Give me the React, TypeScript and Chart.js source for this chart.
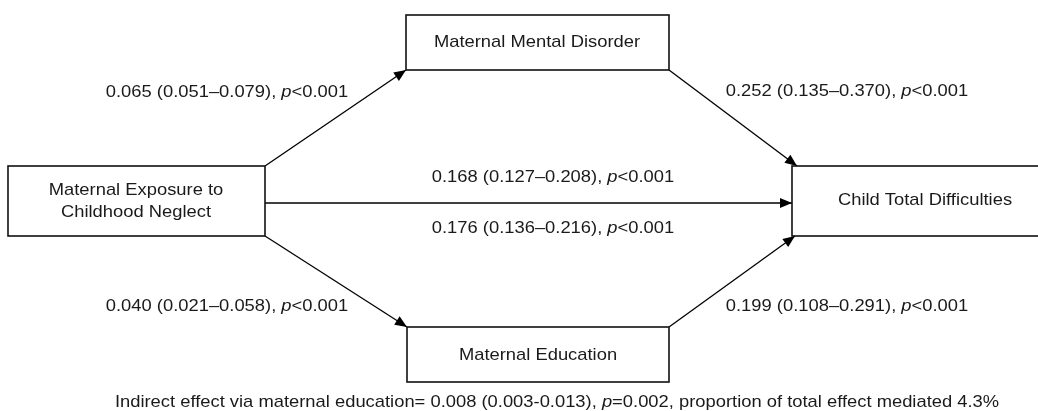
import React, { useEffect, useRef } from "react";
import { Chart, registerables } from "chart.js";

Chart.register(...registerables);

// ---- Data ----
const nodeLabels: string[][] = [
  ["Maternal Exposure to", "Childhood Neglect"],
  ["Maternal Mental Disorder"],
  ["Maternal Education"],
  ["Child Total Difficulties"],
];
const pathNames = [
  "Neglect → Mental Disorder",
  "Mental Disorder → Difficulties",
  "Total effect",
  "Direct effect",
  "Neglect → Education",
  "Education → Difficulties",
];
const estimates = [0.065, 0.252, 0.168, 0.176, 0.04, 0.199];
const ciLower = [0.051, 0.135, 0.127, 0.136, 0.021, 0.108];
const ciUpper = [0.079, 0.37, 0.208, 0.216, 0.058, 0.291];
const pValues = ["<0.001", "<0.001", "<0.001", "<0.001", "<0.001", "<0.001"];
const indirectEstimate = 0.008;
const indirectLower = 0.003;
const indirectUpper = 0.013;
const indirectP = "=0.002";
const proportionMediated = 4.3;

// ---- Layout (diagram coordinates) ----
const boxes = [
  { x0: 8, y0: 166, x1: 265, y1: 236 },
  { x0: 406, y0: 15, x1: 669, y1: 70 },
  { x0: 407, y0: 327, x1: 669, y1: 382 },
  { x0: 792, y0: 166, x1: 1058, y1: 236 },
];
const nodeLabelPos = [
  { x: 136, y: 201 },
  { x: 537, y: 42 },
  { x: 538, y: 355 },
  { x: 925, y: 200 },
];
const edges = [
  { x0: 265, y0: 166, x1: 406, y1: 70 },
  { x0: 669, y0: 70, x1: 797, y1: 166 },
  { x0: 265, y0: 203, x1: 792, y1: 203 },
  null,
  { x0: 265, y0: 236, x1: 407, y1: 327 },
  { x0: 669, y0: 327, x1: 795, y1: 236 },
];
const edgeLabelPos = [
  { x: 227, y: 92 },
  { x: 847, y: 91 },
  { x: 553, y: 177 },
  { x: 553, y: 228 },
  { x: 227, y: 306 },
  { x: 847, y: 306 },
];
const notePos = { x: 557, y: 402 };

const FONT = '"Liberation Sans", Arial, sans-serif';
const SIZE = 17;
const STRETCH = 1.08;

type Seg = { text: string; italic?: boolean };

function drawRich(ctx: CanvasRenderingContext2D, segs: Seg[], cx: number, cy: number, size = SIZE) {
  let total = 0;
  const widths = segs.map((s) => {
    ctx.font = `${s.italic ? "italic " : ""}${size}px ${FONT}`;
    const w = ctx.measureText(s.text).width;
    total += w;
    return w;
  });
  ctx.save();
  ctx.translate(cx, cy);
  ctx.scale(STRETCH, 1);
  let x = -total / 2;
  ctx.textBaseline = "middle";
  ctx.textAlign = "left";
  segs.forEach((s, i) => {
    ctx.font = `${s.italic ? "italic " : ""}${size}px ${FONT}`;
    ctx.fillText(s.text, x, 0);
    x += widths[i];
  });
  ctx.restore();
}

function edgeSegs(i: number): Seg[] {
  return [
    { text: `${estimates[i].toFixed(3)} (${ciLower[i].toFixed(3)}–${ciUpper[i].toFixed(3)}), ` },
    { text: "p", italic: true },
    { text: pValues[i] },
  ];
}

const diagramPlugin = {
  id: "pathDiagram",
  afterDatasetsDraw(chart: any) {
    const ctx: CanvasRenderingContext2D = chart.ctx;
    const xs = chart.scales.x;
    const ys = chart.scales.y;
    const px = (v: number) => xs.getPixelForValue(v);
    const py = (v: number) => ys.getPixelForValue(v);
    ctx.save();
    // arrowheads
    chart.data.datasets.forEach((_ds: any, i: number) => {
      const meta = chart.getDatasetMeta(i);
      const a = meta.data[0];
      const b = meta.data[1];
      if (!a || !b) return;
      const ang = Math.atan2(b.y - a.y, b.x - a.x);
      const L = 12;
      const W = 5;
      ctx.beginPath();
      ctx.moveTo(b.x, b.y);
      ctx.lineTo(b.x - L * Math.cos(ang) + W * Math.sin(ang), b.y - L * Math.sin(ang) - W * Math.cos(ang));
      ctx.lineTo(b.x - L * Math.cos(ang) - W * Math.sin(ang), b.y - L * Math.sin(ang) + W * Math.cos(ang));
      ctx.closePath();
      ctx.fillStyle = "#000";
      ctx.fill();
    });
    // boxes
    ctx.strokeStyle = "#111";
    ctx.lineWidth = 1.6;
    boxes.forEach((b) => {
      ctx.strokeRect(px(b.x0), py(b.y0), px(b.x1) - px(b.x0), py(b.y1) - py(b.y0));
    });
    ctx.fillStyle = "#1a1a1a";
    // node labels
    nodeLabels.forEach((lines, i) => {
      const p = nodeLabelPos[i];
      const lh = 22;
      lines.forEach((t, j) => {
        const y = p.y + (j - (lines.length - 1) / 2) * lh;
        drawRich(ctx, [{ text: t }], px(p.x), py(y));
      });
    });
    // edge labels
    edgeLabelPos.forEach((p, i) => {
      drawRich(ctx, edgeSegs(i), px(p.x), py(p.y));
    });
    // note
    drawRich(
      ctx,
      [
        {
          text: `Indirect effect via maternal education= ${indirectEstimate.toFixed(3)} (${indirectLower.toFixed(3)}-${indirectUpper.toFixed(3)}), `,
        },
        { text: "p", italic: true },
        { text: `${indirectP}, proportion of total effect mediated ${proportionMediated.toFixed(1)}%` },
      ],
      px(notePos.x),
      py(notePos.y)
    );
    ctx.restore();
  },
};

export default function App() {
  const ref = useRef<HTMLCanvasElement | null>(null);
  useEffect(() => {
    if (!ref.current) return;
    const datasets = edges
      .map((e, i) =>
        e
          ? {
              label: pathNames[i],
              data: [
                { x: e.x0, y: e.y0 },
                { x: e.x1, y: e.y1 },
              ],
              showLine: true,
              borderColor: "#000",
              borderWidth: 1.3,
              pointRadius: 0,
            }
          : null
      )
      .filter(Boolean) as any[];
    const chart = new Chart(ref.current, {
      type: "scatter",
      data: { datasets },
      options: {
        animation: false,
        responsive: false,
        events: [],
        layout: { padding: 0 },
        plugins: { legend: { display: false }, tooltip: { enabled: false } },
        scales: {
          x: { type: "linear", min: 0, max: 1038, display: false },
          y: { type: "linear", min: 0, max: 411, reverse: true, display: false },
        },
      },
      plugins: [diagramPlugin],
    });
    return () => chart.destroy();
  }, []);
  return (
    <div style={{ position: "fixed", left: 0, top: 0, width: 1038, height: 411, background: "#fff" }}>
      <canvas ref={ref} width={1038} height={411} />
    </div>
  );
}
